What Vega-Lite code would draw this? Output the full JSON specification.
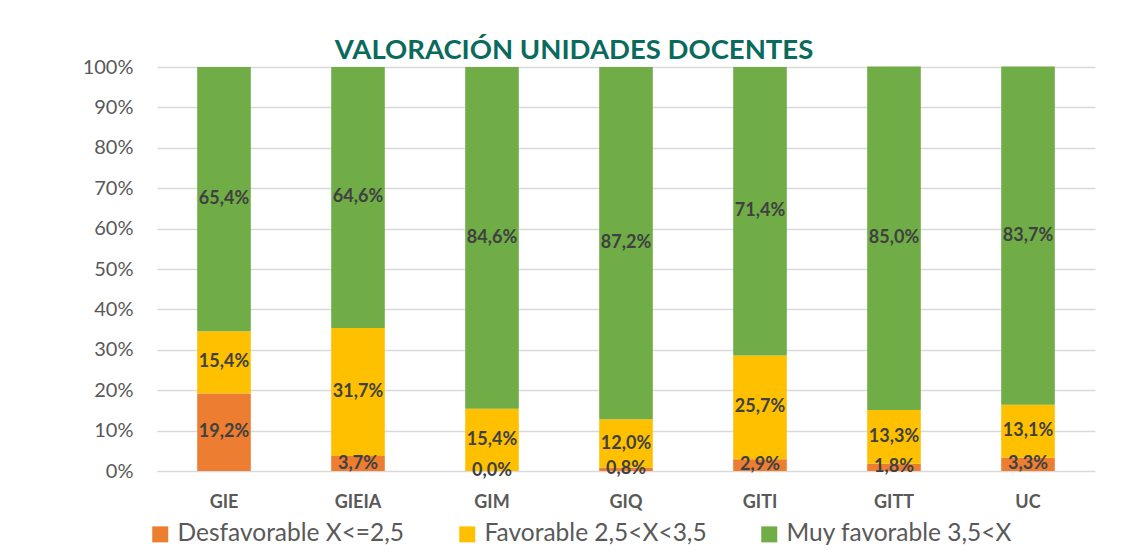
{
  "$schema": "https://vega.github.io/schema/vega-lite/v6.json",
  "width": 938,
  "height": 404,
  "autosize": {"type": "none"},
  "padding": {"left": 157, "top": 67, "right": 40, "bottom": 83},
  "background": "white",
  "title": {
    "text": "VALORACIÓN UNIDADES DOCENTES",
    "font": "Lato",
    "fontSize": 27.5,
    "fontWeight": "bold",
    "color": "#0B6A5E",
    "anchor": "middle",
    "dx": -52,
    "offset": -7
  },
  "config": {"view": {"stroke": null}},
  "data": {
    "values": [
      {"grado": "GIE", "serie": "Desfavorable X<=2,5", "valor": 19.2},
      {"grado": "GIE", "serie": "Favorable 2,5<X<3,5", "valor": 15.4},
      {"grado": "GIE", "serie": "Muy favorable 3,5<X", "valor": 65.4},
      {"grado": "GIEIA", "serie": "Desfavorable X<=2,5", "valor": 3.7},
      {"grado": "GIEIA", "serie": "Favorable 2,5<X<3,5", "valor": 31.7},
      {"grado": "GIEIA", "serie": "Muy favorable 3,5<X", "valor": 64.6},
      {"grado": "GIM", "serie": "Desfavorable X<=2,5", "valor": 0.0},
      {"grado": "GIM", "serie": "Favorable 2,5<X<3,5", "valor": 15.4},
      {"grado": "GIM", "serie": "Muy favorable 3,5<X", "valor": 84.6},
      {"grado": "GIQ", "serie": "Desfavorable X<=2,5", "valor": 0.8},
      {"grado": "GIQ", "serie": "Favorable 2,5<X<3,5", "valor": 12.0},
      {"grado": "GIQ", "serie": "Muy favorable 3,5<X", "valor": 87.2},
      {"grado": "GITI", "serie": "Desfavorable X<=2,5", "valor": 2.9},
      {"grado": "GITI", "serie": "Favorable 2,5<X<3,5", "valor": 25.7},
      {"grado": "GITI", "serie": "Muy favorable 3,5<X", "valor": 71.4},
      {"grado": "GITT", "serie": "Desfavorable X<=2,5", "valor": 1.8},
      {"grado": "GITT", "serie": "Favorable 2,5<X<3,5", "valor": 13.3},
      {"grado": "GITT", "serie": "Muy favorable 3,5<X", "valor": 85.0},
      {"grado": "UC", "serie": "Desfavorable X<=2,5", "valor": 3.3},
      {"grado": "UC", "serie": "Favorable 2,5<X<3,5", "valor": 13.1},
      {"grado": "UC", "serie": "Muy favorable 3,5<X", "valor": 83.7}
    ]
  },
  "transform": [
    {"stack": "valor", "groupby": ["grado"], "sort": [{"field": "serie", "order": "ascending"}], "as": ["y0", "y1"]},
    {"calculate": "(datum.y0 + datum.y1) / 2", "as": "ymid"},
    {"calculate": "replace(format(datum.valor, '.1f'), '.', ',') + '%'", "as": "etiqueta"}
  ],
  "encoding": {
    "x": {
      "field": "grado",
      "type": "nominal",
      "sort": null,
      "scale": {"paddingInner": 0.6, "paddingOuter": 0.3},
      "axis": {
        "title": null,
        "labelAngle": 0,
        "labelFont": "Lato",
        "labelFontSize": 18,
        "labelFontWeight": "bold",
        "labelColor": "#595959",
        "labelPadding": 22,
        "ticks": false,
        "domain": false
      }
    }
  },
  "layer": [
    {
      "mark": {"type": "bar"},
      "encoding": {
        "y": {
          "field": "y0",
          "type": "quantitative",
          "scale": {"domain": [0, 100]},
          "axis": {
            "title": null,
            "values": [0, 10, 20, 30, 40, 50, 60, 70, 80, 90, 100],
            "labelExpr": "datum.value + '%'",
            "labelFont": "Lato",
            "labelFontSize": 20,
            "labelColor": "#595959",
            "labelPadding": 24,
            "ticks": false,
            "domain": false,
            "gridColor": "#D9D9D9",
            "gridWidth": 1.5
          }
        },
        "y2": {"field": "y1"},
        "color": {
          "field": "serie",
          "type": "nominal",
          "scale": {
            "domain": ["Desfavorable X<=2,5", "Favorable 2,5<X<3,5", "Muy favorable 3,5<X"],
            "range": ["#ED7D31", "#FFC000", "#70AD47"]
          },
          "legend": {
            "title": null,
            "orient": "none",
            "direction": "horizontal",
            "legendX": -9,
            "legendY": 455,
            "symbolType": "square",
            "symbolSize": 256,
            "symbolStrokeWidth": 0,
            "symbolOpacity": 1,
            "labelFont": "Lato",
            "labelFontSize": 24.5,
            "labelColor": "#595959",
            "labelOffset": 5,
            "columnPadding": 50,
            "labelLimit": 400
          }
        }
      }
    },
    {
      "mark": {"type": "text", "font": "Lato", "fontSize": 18, "fontWeight": "bold", "color": "#404040", "baseline": "middle"},
      "encoding": {
        "y": {"field": "ymid", "type": "quantitative"},
        "text": {"field": "etiqueta"}
      }
    }
  ]
}
